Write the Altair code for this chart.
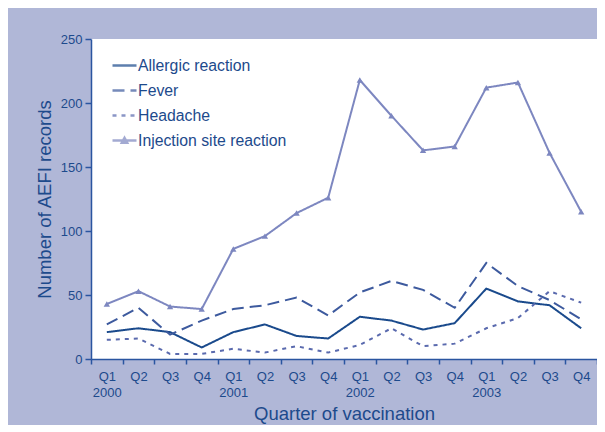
import json
import altair as alt
import pandas as pd

quarters = ["Q1", "Q2", "Q3", "Q4"] * 4
years = ["2000", "", "", "", "2001", "", "", "", "2002", "", "", "", "2003", "", "", ""]

series_names = ["Allergic reaction", "Fever", "Headache", "Injection site reaction"]
allergic = [21, 24, 21, 9, 21, 27, 18, 16, 33, 30, 23, 28, 55, 45, 42, 24]
fever = [27, 40, 19, 30, 39, 42, 48, 34, 52, 61, 54, 40, 75, 57, 46, 31]
headache = [15, 16, 4, 4, 8, 5, 10, 5, 11, 24, 10, 12, 24, 32, 53, 44]
injection = [43, 53, 41, 39, 86, 96, 114, 126, 218, 190, 163, 166, 212, 216, 161, 115]

colors = ["#1A4A8C", "#3D5A9E", "#5A6AAE", "#7D87C0"]
dashes = [[1, 0], [12, 6], [4, 5], [1, 0]]
LINE_SYM = "M-1,0L1,0"
TRI_SYM = "M-1,0L1,0M-0.22,0.18L0,-0.22L0.22,0.18Z"
legend_shapes = [LINE_SYM, LINE_SYM, LINE_SYM, TRI_SYM]

rows = []
for name, vals in zip(series_names, [allergic, fever, headache, injection]):
    for i, v in enumerate(vals):
        rows.append({"i": i, "v": v, "series": name})
df = pd.DataFrame(rows)

labels = [q + ("|" + y if y else "") for q, y in zip(quarters, years)] + [""]
label_expr = "split(" + json.dumps(labels) + "[round(datum.value + 0.5)], '|')"

TXT = "#1D4A8C"
AX = "#2A55A0"
FONT = "Liberation Sans"
W, H = 506, 320
half_band = W / 16 / 2

x_enc = alt.X(
    "i:Q",
    scale=alt.Scale(domain=[-0.5, 15.5], nice=False, zero=False),
    axis=alt.Axis(
        values=[k - 0.5 for k in range(17)],
        labelExpr=label_expr,
        labelOffset=half_band,
        labelFlush=False,
        labelOverlap=False,
        labelBound=False,
        labelLineHeight=16,
        labelFontSize=13,
        labelPadding=6,
        labelColor=TXT,
        labelFont=FONT,
        tickSize=5,
        tickColor=AX,
        domainColor=AX,
        domainWidth=1.5,
        tickWidth=1.5,
        grid=False,
        title="Quarter of vaccination",
        titleFontSize=18.5,
        titleFontWeight="normal",
        titleColor=TXT,
        titleFont=FONT,
        titlePadding=5,
    ),
)
y_enc = alt.Y(
    "v:Q",
    scale=alt.Scale(domain=[0, 250], nice=False),
    axis=alt.Axis(
        values=[0, 50, 100, 150, 200, 250],
        labelFontSize=13,
        labelColor=TXT,
        labelFont=FONT,
        labelPadding=3,
        tickSize=6,
        tickColor=AX,
        tickWidth=1.5,
        domainColor=AX,
        domainWidth=1.5,
        grid=False,
        title="Number of AEFI records",
        titleFontSize=18.5,
        titleFontWeight="normal",
        titleColor=TXT,
        titleFont=FONT,
        titlePadding=6,
    ),
)

legend_props = dict(
    orient="none",
    legendX=20,
    legendY=13,
    title=None,
    symbolSize=576,
    symbolStrokeWidth=2.5,
    symbolFillColor="#7D87C0",
    rowPadding=3,
    labelFontSize=15.8,
    labelColor=TXT,
    labelFont=FONT,
    labelOffset=0,
    padding=0,
)

color_enc = alt.Color(
    "series:N",
    scale=alt.Scale(domain=series_names, range=colors),
    legend=alt.Legend(**legend_props),
)

lines = alt.Chart(df).mark_line(strokeWidth=2).encode(
    x=x_enc,
    y=y_enc,
    color=color_enc,
    strokeDash=alt.StrokeDash(
        "series:N",
        scale=alt.Scale(domain=series_names, range=dashes),
        legend=alt.Legend(**legend_props),
    ),
    detail="series:N",
)

legend_ghost = alt.Chart(df).transform_filter(alt.datum.i < 0).mark_point(filled=False).encode(
    x=x_enc,
    y=y_enc,
    color=color_enc,
    shape=alt.Shape(
        "series:N",
        scale=alt.Scale(domain=series_names, range=legend_shapes),
        legend=alt.Legend(**legend_props),
    ),
)

points = alt.Chart(df).transform_filter(
    alt.datum.series == "Injection site reaction"
).mark_point(shape="triangle-up", filled=True, size=40, opacity=1, color="#7D87C0").encode(
    x=x_enc, y=y_enc
)

chart = alt.layer(lines, legend_ghost, points).properties(
    width=W,
    height=H,
    background="#B0B7D7",
    padding={"left": 83, "top": 31, "right": 0, "bottom": 66},
    autosize=alt.AutoSizeParams(type="none"),
).configure_view(fill="white", stroke=None)

chart.save("out.html", embed_options={"renderer": "svg", "actions": False})
